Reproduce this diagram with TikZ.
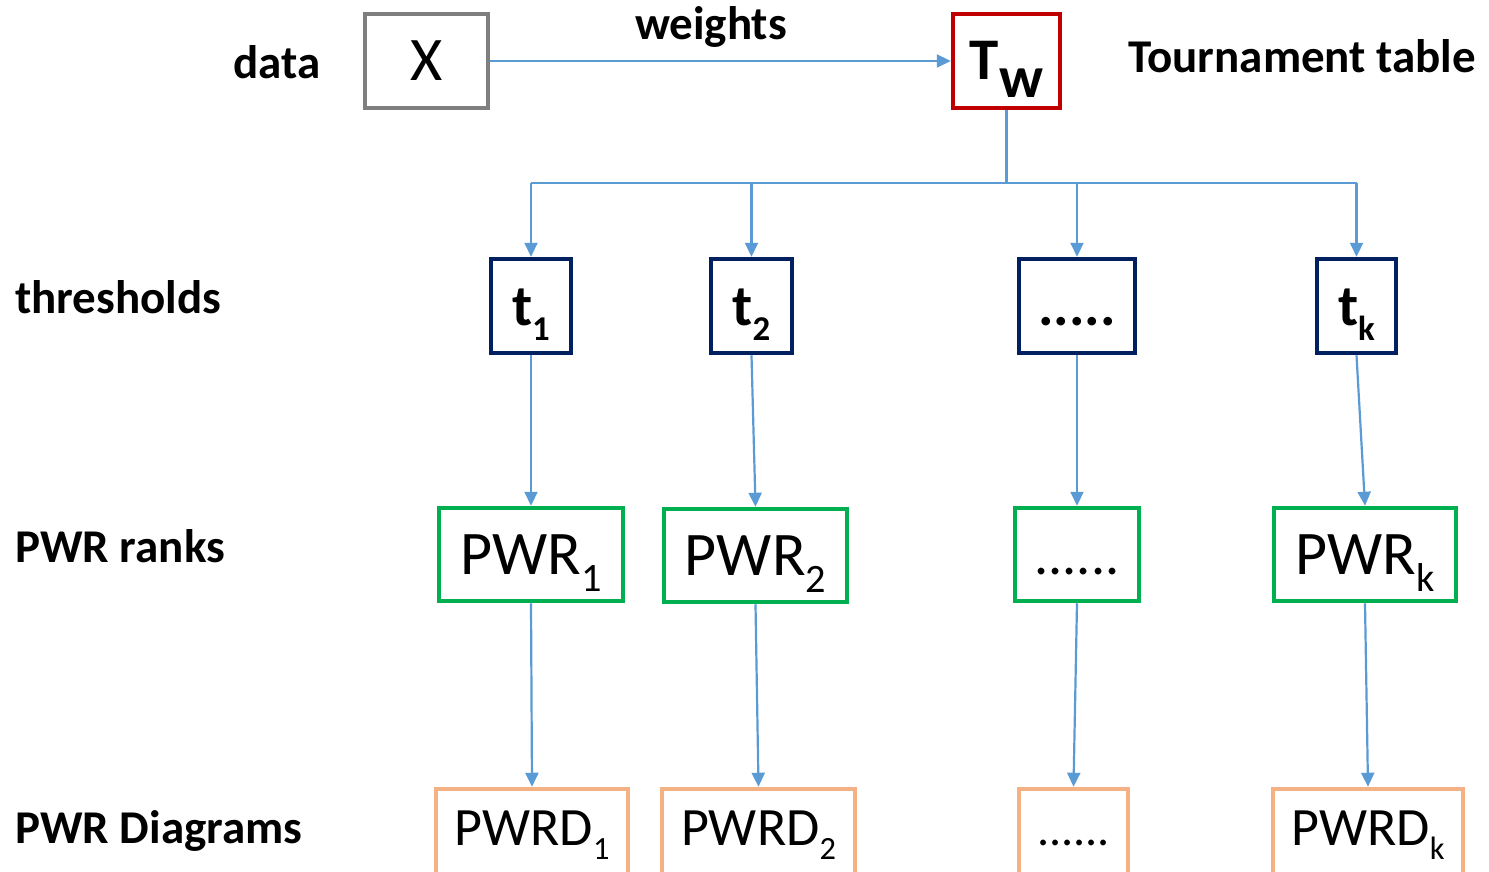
\documentclass[tikz,border=0pt]{standalone}
\usepackage{fontspec}
\setmainfont{Carlito}
\usepackage{graphicx}
\usetikzlibrary{arrows.meta}
\definecolor{cgray}{HTML}{7F7F7F}
\definecolor{cred}{HTML}{C00000}
\definecolor{cnavy}{HTML}{002060}
\definecolor{cgreen}{HTML}{00B050}
\definecolor{corange}{HTML}{F4B183}
\definecolor{cblue}{HTML}{5B9BD5}
\newcommand{\sbs}[2][0.65]{\raisebox{-0.27em}[0pt][0pt]{\scalebox{#1}{#2}}}
\begin{document}
\begin{tikzpicture}[x=1pt,y=-1pt,
  box/.style={draw, line width=4.5pt, inner sep=0pt, text depth=0pt, align=center},
  graybox/.style={box, draw=cgray, text height=40pt, font=\fontsize{62}{70}\selectfont},
  redbox/.style={box, draw=cred, text height=38pt, font=\fontsize{59}{66}\selectfont\bfseries},
  tbox/.style={box, draw=cnavy, minimum height=94pt, text height=38pt, font=\fontsize{58}{64}\selectfont\bfseries},
  rbox/.style={box, draw=cgreen, minimum height=93pt, text height=40pt, font=\fontsize{62}{70}\selectfont},
  dbox/.style={box, draw=corange, minimum height=100pt, text height=35pt, text depth=23pt, font=\fontsize{54}{60}\selectfont},
  lbl/.style={font=\fontsize{47}{56}\selectfont\bfseries, inner sep=0pt, anchor=base west},
  conn/.style={draw=cblue, line width=2.2pt},
  arr/.style={conn, -{Triangle[length=14pt,width=13pt]}}
]
\useasboundingbox (0,0) rectangle (1489,872);
\fill[white] (0,0) rectangle (1489,872);

% labels
\node[lbl] (lData) at (233,79) {data};
\node[lbl, anchor=base] (lWeights) at (711,40) {weights};
\node[lbl] (lTour) at (1128,73) {Tournament table};
\node[lbl] (lThr) at (15,313) {thresholds};
\node[lbl] (lRanks) at (15,562) {PWR ranks};
\node[lbl] (lDiag) at (15,843) {PWR Diagrams};

% top row
\node[graybox, minimum width=123pt, minimum height=94pt] (X) at (426.5,61) {X};
\node[redbox, minimum width=107pt, minimum height=94pt] (Tw) at (1006.5,61) {T\raisebox{-0.3em}[0pt][0pt]{w}};

% thresholds
\node[tbox, minimum width=80pt] (t1) at (531,306) {t\sbs[0.6]{1}};
\node[tbox, minimum width=81pt] (t2) at (751.5,306) {t\sbs[0.6]{2}};
\node[tbox, minimum width=116pt] (td) at (1077,306) {.....};
\node[tbox, minimum width=79pt] (tk) at (1356.5,306) {t\sbs[0.6]{k}};

% PWR ranks
\node[rbox, minimum width=184pt] (r1) at (531,554.5) {PWR\sbs{1}};
\node[rbox, minimum width=183pt] (r2) at (755.5,555.5) {PWR\sbs{2}};
\node[rbox, minimum width=124pt, font=\fontsize{56}{62}\selectfont] (rd) at (1077,554.5) {......};
\node[rbox, minimum width=182pt] (rk) at (1365,554.5) {PWR\sbs{k}};

% PWR diagrams
\node[dbox, minimum width=192pt] (d1) at (532,839) {PWRD\sbs[0.6]{1}};
\node[dbox, minimum width=193pt] (d2) at (758.5,839) {PWRD\sbs[0.6]{2}};
\node[dbox, minimum width=109pt, font=\fontsize{48}{54}\selectfont] (dd) at (1073.5,839) {......};
\node[dbox, minimum width=190pt] (dk) at (1368,839) {PWRD\sbs[0.6]{k}};

% connectors
\coordinate (bus) at (0,183);
\draw[arr] (X.east) -- (Tw.west);
\draw[conn] (Tw.south) -- (Tw.south |- bus);
\draw[conn] (t1.north |- bus) -- (tk.north |- bus);
\foreach \n in {t1,t2,td,tk}{
  \draw[arr] (\n.north |- bus) -- (\n.north);
}
\draw[arr] (t1.south) -- (r1.north);
\draw[arr] (t2.south) -- (r2.north);
\draw[arr] (td.south) -- (rd.north);
\draw[arr] (tk.south) -- (rk.north);
\draw[arr] (r1.south) -- (d1.north);
\draw[arr] (r2.south) -- (d2.north);
\draw[arr] (rd.south) -- (dd.north);
\draw[arr] (rk.south) -- (dk.north);
\end{tikzpicture}
\end{document}
